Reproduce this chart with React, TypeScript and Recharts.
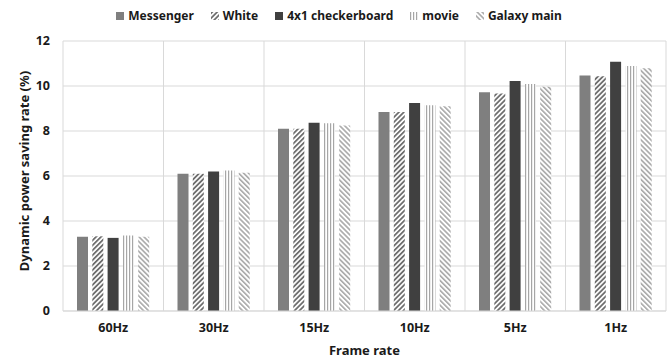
import { BarChart, Bar, XAxis, YAxis, CartesianGrid } from "recharts";

const frameRates = ["60Hz", "30Hz", "15Hz", "10Hz", "5Hz", "1Hz"];
const messenger = [3.3, 6.1, 8.1, 8.85, 9.72, 10.47];
const white = [3.32, 6.1, 8.1, 8.85, 9.67, 10.43];
const checkerboard = [3.25, 6.2, 8.37, 9.25, 10.22, 11.08];
const movie = [3.36, 6.25, 8.35, 9.15, 10.09, 10.89];
const galaxyMain = [3.3, 6.15, 8.25, 9.1, 9.97, 10.79];
const yTicks = [0, 2, 4, 6, 8, 10, 12];

const seriesList = [
  { key: "messenger", name: "Messenger", values: messenger, fill: "#7f7f7f" },
  { key: "white", name: "White", values: white, fill: "url(#hatchWhite)" },
  { key: "checker", name: "4x1 checkerboard", values: checkerboard, fill: "#404040" },
  { key: "movie", name: "movie", values: movie, fill: "url(#hatchMovie)" },
  { key: "galaxy", name: "Galaxy main", values: galaxyMain, fill: "url(#hatchGalaxy)" },
];

const data = frameRates.map((rate, i) => {
  const row: Record<string, string | number> = { rate };
  seriesList.forEach((s) => (row[s.key] = s.values[i]));
  return row;
});

const font = "'Noto Sans', 'DejaVu Sans', sans-serif";
const gridColor = "#d9d9d9";
const textColor = "#1a1a1a";

function Patterns() {
  return (
    <svg width={0} height={0} style={{ position: "absolute" }}>
      <defs>
        <pattern id="hatchWhite" width={3.5} height={3.5} patternUnits="userSpaceOnUse" patternTransform="rotate(45)">
          <rect width={3.5} height={3.5} fill="#ffffff" />
          <rect width={1.8} height={3.5} fill="#6e6e6e" />
        </pattern>
        <pattern id="hatchGalaxy" width={3.5} height={3.5} patternUnits="userSpaceOnUse" patternTransform="rotate(-45)">
          <rect width={3.5} height={3.5} fill="#ffffff" />
          <rect width={1.6} height={3.5} fill="#a8a8a8" />
        </pattern>
        <pattern id="hatchMovie" width={3} height={3} patternUnits="userSpaceOnUse">
          <rect width={3} height={3} fill="#ffffff" />
          <rect width={1.2} height={3} fill="#a6a6a6" />
        </pattern>
      </defs>
    </svg>
  );
}

function LegendRow() {
  return (
    <div
      style={{
        position: "absolute",
        top: 7,
        left: 0,
        width: 668,
        display: "flex",
        justifyContent: "center",
        paddingLeft: 10,
        boxSizing: "border-box",
        gap: 17,
        fontFamily: font,
        fontWeight: 700,
        fontSize: 12,
        color: textColor,
      }}
    >
      {seriesList.map((s) => (
        <div key={s.key} style={{ display: "flex", alignItems: "center", gap: 4 }}>
          <svg width={8} height={8}>
            <rect width={8} height={8} fill={s.fill} />
          </svg>
          <span>{s.name}</span>
        </div>
      ))}
    </div>
  );
}

function YLabel(props: any) {
  const vb = props.viewBox || {};
  const cx = 24;
  const cy = vb.y + vb.height / 2 - 5;
  return (
    <text
      x={cx}
      y={cy}
      transform={`rotate(-90, ${cx}, ${cy})`}
      textAnchor="middle"
      dominantBaseline="central"
      fontFamily={font}
      fontWeight={700}
      fontSize={13}
      fill={textColor}
    >
      Dynamic power saving rate (%)
    </text>
  );
}

export default function App() {
  return (
    <div style={{ position: "absolute", left: 0, top: 0, width: 668, height: 358, background: "#fff" }}>
      <Patterns />
      <LegendRow />
      <BarChart
        width={668}
        height={358}
        data={data}
        margin={{ top: 41, right: 2, left: 0, bottom: 0 }}
        barSize={11}
        barGap={4.3}
      >
        <CartesianGrid
          stroke={gridColor}
          verticalCoordinatesGenerator={({ offset }: any) =>
            frameRates.map((_, i) => offset.left + (i * offset.width) / frameRates.length).concat(offset.left + offset.width)
          }
        />
        <XAxis
          dataKey="rate"
          height={47}
          axisLine={{ stroke: gridColor }}
          tickLine={false}
          tickMargin={6}
          tick={{ fontFamily: font, fontWeight: 700, fontSize: 12.5, fill: textColor }}
          label={{
            value: "Frame rate",
            position: "insideBottom",
            offset: 3,
            style: { fontFamily: font, fontWeight: 700, fontSize: 13, fill: textColor },
          }}
        />
        <YAxis
          width={63}
          domain={[0, 12]}
          ticks={yTicks}
          axisLine={false}
          tickLine={false}
          tickMargin={7}
          tick={{ fontFamily: font, fontWeight: 700, fontSize: 12.5, fill: textColor }}
          label={<YLabel />}
        />
        {seriesList.map((s) => (
          <Bar key={s.key} dataKey={s.key} name={s.name} fill={s.fill} isAnimationActive={false} />
        ))}
      </BarChart>
    </div>
  );
}
